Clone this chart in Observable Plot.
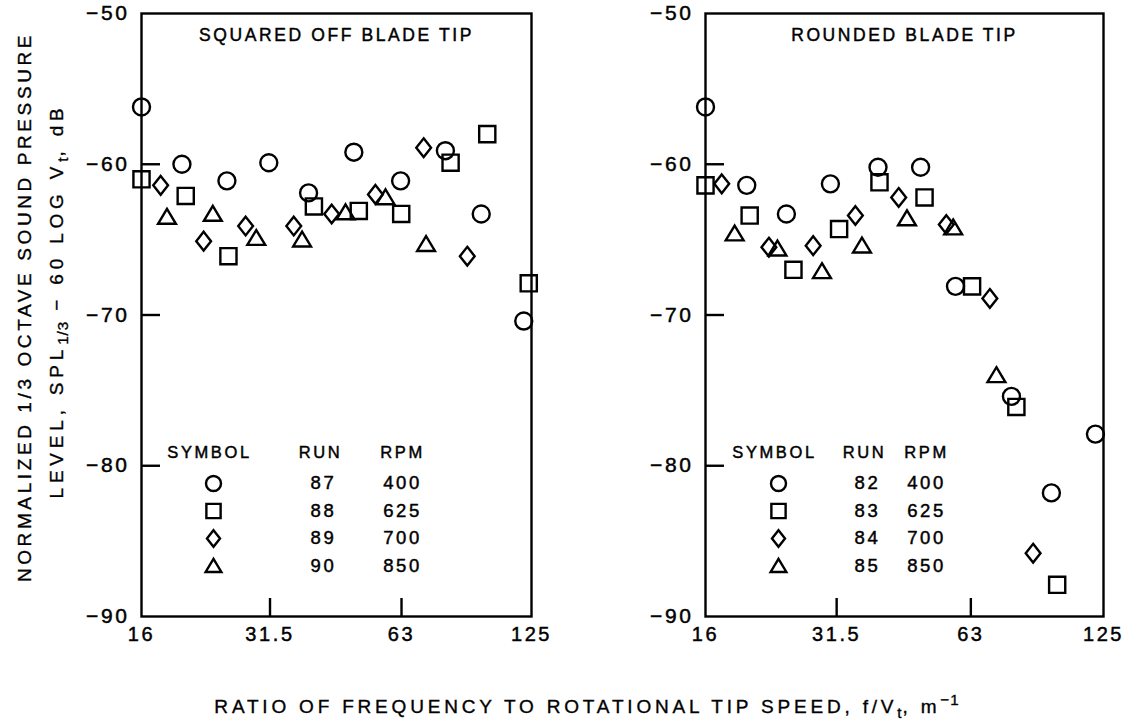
<!DOCTYPE html>
<html><head><meta charset="utf-8">
<script src="https://cdn.jsdelivr.net/npm/d3@7"></script>
<script src="https://cdn.jsdelivr.net/npm/@observablehq/plot@0.6"></script>
<style>
body{margin:0;background:#fff;}
#wrap{position:relative;width:1133px;height:724px;background:#fff;font-family:"Liberation Sans",Arial,sans-serif;color:#000;overflow:hidden;}
.panel{position:absolute;top:0;z-index:1;}
.ytitle{position:absolute;z-index:2;white-space:nowrap;font-size:19px;line-height:1;letter-spacing:3.6px;transform:translate(-50%,-50%) rotate(-90deg);-webkit-text-stroke:0.35px #000;}
.xtitle{position:absolute;z-index:2;white-space:nowrap;font-size:19px;line-height:1;letter-spacing:3.8px;transform:translate(-50%,-50%);-webkit-text-stroke:0.35px #000;}
sub,sup{font-size:80%;line-height:0;letter-spacing:1px;}
sub{vertical-align:-0.35em;}
sup{vertical-align:0.5em;}
#wrap svg text{stroke:#000;stroke-width:0.45px;}
</style></head><body>
<div id="wrap">
  <div id="p1" class="panel" style="left:0px"></div>
  <div id="p2" class="panel" style="left:640px"></div>
  <div class="ytitle" style="left:24px;top:307px">NORMALIZED 1/3 OCTAVE SOUND PRESSURE</div>
  <div class="ytitle" style="left:56px;top:301px;letter-spacing:4.8px">LEVEL, SPL<sub>1/3</sub> − 60 LOG V<sub>t</sub>, dB</div>
  <div class="xtitle" style="left:587px;top:706px">RATIO OF FREQUENCY TO ROTATIONAL TIP SPEED, f/V<sub>t</sub>, m<sup>−1</sup></div>
</div>
<script>
// ---- axes ----
const xTicks = [16, 31.5, 63, 125];
const xTickLabels = ["16", "31.5", "63", "125"];
const xInnerTicks = [31.5, 63];
const yTicks = [-90, -80, -70, -60, -50];
const yInnerTicks = [-80, -70, -60];

// ---- panel titles & legend text ----
const panelTitles = ["SQUARED OFF BLADE TIP", "ROUNDED BLADE TIP"];
const legendHeaders = ["SYMBOL", "RUN", "RPM"];
const squaredRuns = ["87", "88", "89", "90"];
const roundedRuns = ["82", "83", "84", "85"];
const rpmValues = ["400", "625", "700", "850"];

// ---- squared off blade tip (runs 87-90) ----
const sqCircleX = [16, 19.8, 25.1, 31.3, 38.6, 49.0, 62.7, 79.4, 95.9, 120.0];
const sqCircleY = [-56.2, -60.0, -61.1, -59.9, -61.9, -59.2, -61.1, -59.1, -63.3, -70.4];
const sqSquareX = [16, 20.2, 25.3, 39.7, 50.3, 62.9, 81.6, 99.0, 123.2];
const sqSquareY = [-61.0, -62.1, -66.1, -62.8, -63.1, -63.3, -59.9, -58.0, -67.9];
const sqDiamondX = [17.7, 22.2, 27.7, 35.7, 43.6, 54.9, 70.8, 89.1];
const sqDiamondY = [-61.4, -65.1, -64.1, -64.1, -63.3, -62.0, -58.9, -66.1];
const sqTriangleX = [18.3, 23.3, 29.3, 37.3, 46.9, 57.9, 71.7];
const sqTriangleY = [-63.5, -63.3, -64.9, -65.0, -63.2, -62.2, -65.3];

// ---- rounded blade tip (runs 82-85) ----
const rdCircleX = [16, 19.8, 24.3, 30.5, 39.0, 48.6, 58.2, 77.7, 95.5, 119.9];
const rdCircleY = [-56.2, -61.4, -63.3, -61.3, -60.2, -60.2, -68.1, -75.4, -81.8, -77.9];
const rdSquareX = [16, 20.1, 25.2, 31.9, 39.3, 49.6, 63.4, 79.7, 98.4];
const rdSquareY = [-61.4, -63.4, -67.0, -64.3, -61.2, -62.2, -68.1, -76.1, -87.9];
const rdDiamondX = [17.4, 22.2, 27.9, 34.7, 43.4, 55.5, 69.5, 86.9];
const rdDiamondY = [-61.3, -65.5, -65.4, -63.4, -62.2, -64.0, -68.9, -85.8];
const rdTriangleX = [18.6, 23.2, 29.2, 35.9, 45.3, 57.5, 71.9];
const rdTriangleY = [-64.6, -65.6, -67.1, -65.4, -63.6, -64.2, -74.0];

// ---- outline symbols ----
const symCircle = {draw(c, s) { const r = Math.sqrt(s / Math.PI); c.moveTo(r, 0); c.arc(0, 0, r, 0, 2 * Math.PI); c.closePath(); }};
const symSquare = {draw(c, s) { const r = Math.sqrt(s / Math.PI) * 0.95; c.moveTo(-r, -r); c.lineTo(r, -r); c.lineTo(r, r); c.lineTo(-r, r); c.closePath(); }};
const symDiamond = {draw(c, s) { const r = Math.sqrt(s / Math.PI); const w = r * 0.87, h = r * 1.1; c.moveTo(0, -h); c.lineTo(w, 0); c.lineTo(0, h); c.lineTo(-w, 0); c.closePath(); }};
const symTriangle = {draw(c, s) { const r = Math.sqrt(s / Math.PI); const w = r * 1.05; c.moveTo(0, -r * 0.95); c.lineTo(w, r * 0.8); c.lineTo(-w, r * 0.8); c.closePath(); }};
const symbols = [symCircle, symSquare, symDiamond, symTriangle];

const H = 650, MT = 13, MB = 34;
const FONT = '"Liberation Sans", Arial, sans-serif';
const SW = 2.4;

function panel(opts) {
  const {title, series, runs, width, marginLeft, marginRight, lg} = opts;
  const innerW = width - marginLeft - marginRight;
  const innerH = H - MT - MB;
  const marks = [
    Plot.frame({stroke: "black", strokeWidth: SW}),
    Plot.axisY({ticks: yTicks, tickSize: 0, tickPadding: 12, fontSize: 21}),
    Plot.axisX({ticks: xTicks, tickSize: 0, tickPadding: 10, fontSize: 20, tickFormat: d => xTickLabels[xTicks.indexOf(d)]}),
    Plot.tickY(yInnerTicks, {y: d => d, insetRight: innerW - 19, stroke: "black", strokeWidth: SW}),
    Plot.tickX(xInnerTicks, {x: d => d, insetTop: innerH - 18, stroke: "black", strokeWidth: SW}),
    Plot.text([title], {x: null, y: null, text: d => d, frameAnchor: "top", textAnchor: "middle", lineAnchor: "middle", dy: 22, fontSize: 17.5})
  ];
  series.forEach((s, i) => {
    marks.push(Plot.dot(d3.zip(s[0], s[1]), {x: d => d[0], y: d => d[1], symbol: symbols[i], r: 8.5, stroke: "black", strokeWidth: 2.4, fill: "none"}));
  });
  // legend
  const hd = [lg.symDx, lg.runDx, lg.rpmDx];
  legendHeaders.forEach((h, j) => {
    marks.push(Plot.text([h], {x: null, y: null, text: d => d, frameAnchor: "top-left", textAnchor: "middle", lineAnchor: "middle", dx: hd[j], dy: 439, fontSize: 16.5}));
  });
  runs.forEach((run, i) => {
    const dy = 470 + i * 27.5;
    marks.push(Plot.dot([run], {x: null, y: null, frameAnchor: "top-left", dx: lg.symDx + 4, dy, symbol: symbols[i], r: 7.5, stroke: "black", strokeWidth: 2.4, fill: "none"}));
    marks.push(Plot.text([run], {x: null, y: null, text: d => d, frameAnchor: "top-left", textAnchor: "middle", lineAnchor: "middle", dx: lg.runDx + 3, dy, fontSize: 18.5}));
    marks.push(Plot.text([rpmValues[i]], {x: null, y: null, text: d => d, frameAnchor: "top-left", textAnchor: "middle", lineAnchor: "middle", dx: lg.rpmDx, dy, fontSize: 18.5}));
  });
  return Plot.plot({
    width, height: H, marginLeft, marginRight, marginTop: MT, marginBottom: MB,
    x: {type: "log", domain: [16, 125]},
    y: {domain: [-90, -50]},
    style: {fontFamily: FONT, color: "black", background: "transparent", overflow: "visible", letterSpacing: "2.6px"},
    marks
  });
}

document.getElementById("p1").append(panel({
  title: panelTitles[0],
  series: [[sqCircleX, sqCircleY], [sqSquareX, sqSquareY], [sqDiamondX, sqDiamondY], [sqTriangleX, sqTriangleY]],
  runs: squaredRuns,
  width: 560, marginLeft: 141, marginRight: 29,
  lg: {symDx: 68, runDx: 179, rpmDx: 261}
}));
document.getElementById("p2").append(panel({
  title: panelTitles[1],
  series: [[rdCircleX, rdCircleY], [rdSquareX, rdSquareY], [rdDiamondX, rdDiamondY], [rdTriangleX, rdTriangleY]],
  runs: roundedRuns,
  width: 490, marginLeft: 65, marginRight: 27,
  lg: {symDx: 69, runDx: 159, rpmDx: 221}
}));
</script>
</body></html>
